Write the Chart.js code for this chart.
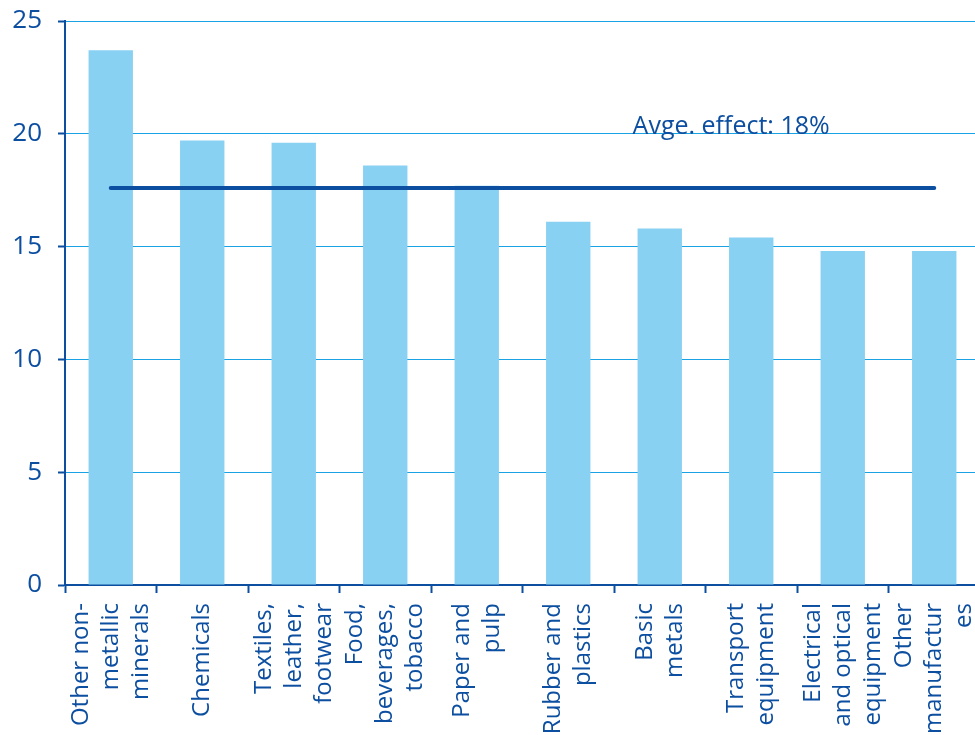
<!DOCTYPE html>
<html>
<head>
<meta charset="utf-8">
<script src="https://cdn.jsdelivr.net/npm/chart.js@4"></script>
<style>
  html, body { margin: 0; padding: 0; background: #fff; overflow: hidden; }
  #wrap { width: 982px; height: 735px; position: relative; }
</style>
</head>
<body>
<div id="wrap"><canvas id="effectChart"></canvas></div>
<script>
// sectors, each label split into the lines it is printed on
const sectors = [
  ['Other non-', 'metallic', 'minerals'],
  ['Chemicals'],
  ['Textiles,', 'leather,', 'footwear'],
  ['Food,', 'beverages,', 'tobacco'],
  ['Paper and', 'pulp'],
  ['Rubber and', 'plastics'],
  ['Basic', 'metals'],
  ['Transport', 'equipment'],
  ['Electrical', 'and optical', 'equipment'],
  ['Other', 'manufactur', 'es']
];
const effect = [23.7, 19.7, 19.6, 18.6, 17.7, 16.1, 15.8, 15.4, 14.8, 14.8];
const avgEffect = 17.6;
const avgLine = [17.6, 17.6, 17.6, 17.6, 17.6, 17.6, 17.6, 17.6, 17.6, 17.6];
const yTicks = [0, 5, 10, 15, 20, 25];

const DARK = '#0c4ea0';
const BAR = '#89d1f2';
const GRID = '#1aa3e4';
const FONT = "'Open Sans', sans-serif";

// x labels are drawn by hand so multi-line labels stay centred on their bar
const sectorLabels = {
  id: 'sectorLabels',
  afterDraw(chart) {
    const x = chart.scales.x;
    const c = chart.ctx;
    const lh = 30;
    c.save();
    c.fillStyle = DARK;
    c.font = '500 24px ' + FONT;
    c.textAlign = 'right';
    c.textBaseline = 'middle';
    sectors.forEach((lines, i) => {
      const cx = x.getPixelForTick(i);
      lines.forEach((t, j) => {
        c.save();
        c.translate(cx + (j - (lines.length - 1) / 2) * lh, x.top + 18);
        c.rotate(-Math.PI / 2);
        c.fillText(t, 0, 0);
        c.restore();
      });
    });
    c.restore();
  }
};

// caption for the average line
const avgCaption = {
  id: 'avgCaption',
  afterDatasetsDraw(chart) {
    const { x, y } = chart.scales;
    const c = chart.ctx;
    c.save();
    c.fillStyle = DARK;
    c.font = '500 25px ' + FONT;
    c.textAlign = 'center';
    c.textBaseline = 'alphabetic';
    c.fillText('Avge. effect: ' + Math.round(avgEffect) + '%', x.getPixelForValue(6.78), y.getPixelForValue(20));
    c.restore();
  }
};

new Chart(document.getElementById('effectChart'), {
  type: 'bar',
  data: {
    labels: sectors.map(s => s.join(' ')),
    datasets: [
      {
        type: 'line',
        data: avgLine,
        borderColor: DARK,
        borderWidth: 4,
        borderCapStyle: 'round',
        pointRadius: 0,
        fill: false,
        order: 0
      },
      {
        data: effect,
        backgroundColor: BAR,
        barPercentage: 0.485,
        categoryPercentage: 1,
        order: 1
      }
    ]
  },
  options: {
    responsive: true,
    maintainAspectRatio: false,
    animation: false,
    layout: { padding: { top: 21, right: 2, left: 0, bottom: 0 } },
    plugins: { legend: { display: false }, tooltip: { enabled: false } },
    scales: {
      x: {
        offset: true,
        grid: {
          offset: true,
          drawOnChartArea: false,
          tickLength: 8,
          tickColor: DARK,
          tickWidth: 2
        },
        border: { color: DARK, width: 2 },
        ticks: { display: false },
        afterFit(s) { s.height = 150; s.paddingLeft = 0; s.paddingRight = 0; }
      },
      y: {
        min: 0,
        max: 25,
        afterBuildTicks(s) { s.ticks = yTicks.map(v => ({ value: v })); },
        grid: {
          color: GRID,
          lineWidth: 1,
          tickLength: 7,
          tickColor: DARK,
          tickWidth: 2
        },
        border: { color: DARK, width: 2 },
        ticks: {
          color: DARK,
          padding: 16,
          font: { family: FONT, size: 26, weight: '500' }
        },
        afterFit(s) { s.width = 65; s.paddingTop = 0; s.paddingBottom = 0; }
      }
    }
  },
  plugins: [sectorLabels, avgCaption]
});
</script>
</body>
</html>
